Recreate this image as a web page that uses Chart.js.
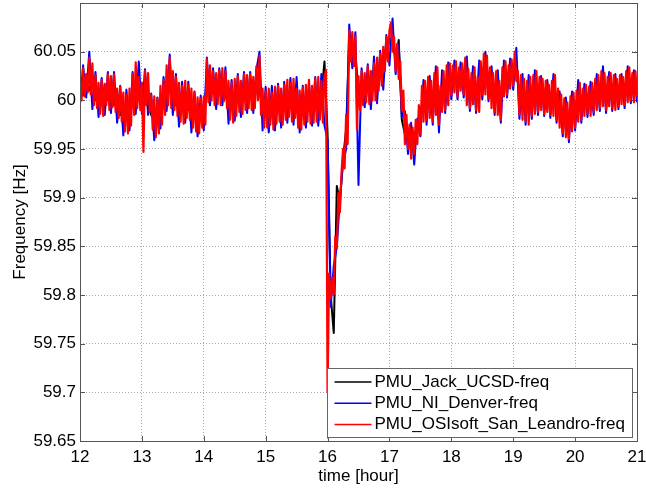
<!DOCTYPE html>
<html>
<head>
<meta charset="utf-8">
<title>PMU frequency</title>
<script src="https://cdn.jsdelivr.net/npm/chart.js@4.4.0/dist/chart.umd.min.js"></script>
<style>
  body { margin: 0; background: #fff; }
  #wrap { width: 646px; height: 491px; }
</style>
</head>
<body>
<div id="wrap"><canvas id="myChart" width="646" height="491"></canvas></div>
<script>
// series names, same order as the legend
var seriesNames = ['PMU_Jack_UCSD-freq', 'PMU_NI_Denver-freq', 'PMU_OSIsoft_San_Leandro-freq'];
var seriesColors = ['#000000', '#0000ff', '#ff0000'];

var hourTicks = [12, 13, 14, 15, 16, 17, 18, 19, 20, 21];
var freqTicks = [59.65, 59.7, 59.75, 59.8, 59.85, 59.9, 59.95, 60, 60.05];

// sampling of the traces (hours)
var startHour = 12;
var fineStep = 0.025;   // OSIsoft trace
var coarseStep = 0.05;  // Jack / Denver traces

// PMU_OSIsoft_San_Leandro-freq [Hz], every 0.025 h from 12:00
var freqOsisoft = [
  60.020, 60.000, 60.033, 60.004, 60.027, 60.008, 60.044, 60.006, 60.038, 59.995,
  60.026, 59.992, 60.018, 59.986, 60.021, 59.984, 60.017, 59.995, 60.027, 59.990,
  60.025, 59.993, 60.027, 59.988, 60.012, 59.982, 60.014, 59.978, 60.008, 59.968,
  60.006, 59.966, 60.012, 59.974, 60.027, 59.985, 60.039, 59.992, 60.024, 59.990,
  60.018, 59.947, 60.030, 59.995, 60.028, 59.988, 60.006, 59.970, 60.004, 59.962,
  60.002, 59.966, 60.015, 59.975, 60.021, 59.985, 60.036, 59.995, 60.044, 59.992,
  60.030, 59.990, 60.024, 59.984, 60.018, 59.978, 60.015, 59.976, 60.020, 59.982,
  60.016, 59.980, 60.012, 59.972, 60.008, 59.968, 60.003, 59.966, 60.002, 59.972,
  60.004, 59.975, 60.042, 59.998, 60.036, 60.000, 60.030, 59.995, 60.028, 59.996,
  60.031, 59.995, 60.033, 59.999, 60.030, 59.992, 60.020, 59.980, 60.018, 59.977,
  60.022, 59.984, 60.025, 59.988, 60.020, 59.986, 60.027, 59.990, 60.026, 59.992,
  60.027, 59.990, 60.024, 59.992, 60.035, 60.000, 60.046, 59.985, 60.012, 59.972,
  60.010, 59.972, 60.012, 59.975, 60.008, 59.970, 60.014, 59.976, 60.015, 59.978,
  60.012, 59.975, 60.016, 59.980, 60.021, 59.983, 60.018, 59.978, 60.022, 59.982,
  60.012, 59.972, 60.010, 59.970, 60.013, 59.975, 60.016, 59.978, 60.021, 59.976,
  60.015, 59.977, 60.022, 59.978, 60.024, 59.980, 60.020, 59.977, 60.025, 60.031,
  59.700, 59.822, 59.796, 59.818, 59.800, 59.860, 59.848, 59.905, 59.885, 59.925,
  59.950, 59.930, 59.985, 59.955, 60.072, 60.040, 60.070, 60.035, 60.066, 59.970,
  60.025, 59.990, 60.030, 59.995, 60.028, 59.998, 60.035, 59.996, 60.030, 60.000,
  60.038, 60.000, 60.044, 60.010, 60.048, 60.015, 60.055, 60.030, 60.065, 60.040,
  60.072, 60.080, 60.050, 60.065, 60.030, 60.058, 60.022, 60.040, 59.990, 60.010,
  59.955, 59.985, 59.950, 59.975, 59.940, 59.972, 59.945, 59.980, 59.955, 59.995,
  59.965, 60.015, 59.978, 60.020, 59.980, 60.024, 59.982, 60.020, 59.978, 60.028,
  59.985, 60.034, 59.975, 60.015, 59.988, 60.030, 59.990, 60.036, 59.995, 60.038,
  60.005, 60.036, 60.008, 60.040, 60.004, 60.034, 60.010, 60.038, 60.006, 60.044,
  59.995, 60.032, 59.992, 60.028, 59.996, 60.034, 59.990, 60.024, 59.988, 60.040,
  60.005, 60.048, 60.006, 60.046, 60.002, 60.034, 59.992, 60.028, 59.988, 60.030,
  59.985, 60.020, 59.980, 60.034, 60.004, 60.040, 60.006, 60.036, 60.012, 60.042,
  60.015, 60.050, 60.020, 60.030, 59.985, 60.026, 59.980, 60.022, 59.978, 60.020,
  59.975, 60.024, 59.984, 60.026, 59.986, 60.030, 59.988, 60.024, 59.990, 60.022,
  59.986, 60.020, 59.988, 60.016, 59.985, 60.020, 59.984, 60.026, 59.980, 60.012,
  59.972, 60.006, 59.966, 60.002, 59.962, 59.998, 59.960, 60.004, 59.968, 60.008,
  59.972, 60.010, 59.978, 60.018, 59.980, 60.012, 59.984, 60.016, 59.986, 60.014,
  59.984, 60.018, 59.988, 60.022, 59.990, 60.026, 59.992, 60.030, 59.994, 60.028,
  59.990, 60.024, 59.994, 60.028, 59.992, 60.026, 59.990, 60.022, 59.994, 60.026,
  59.996, 60.024, 59.995, 60.030, 59.998, 60.034, 60.000, 60.028, 59.998, 60.030,
  60.004
];

// PMU_NI_Denver-freq [Hz], every 0.05 h from 12:00
var freqDenver = [
  59.997, 60.036, 60.003, 60.050, 59.991,
  60.029, 59.983, 60.023, 59.985, 60.029,
  59.987, 60.029, 59.977, 60.015, 59.964,
  60.011, 59.969, 60.029, 59.986, 60.040,
  59.986, 60.032, 59.985, 60.007, 59.959,
  60.003, 59.971, 60.024, 59.989, 60.047,
  59.985, 60.027, 59.973, 60.019, 59.977,
  60.019, 59.967, 60.009, 59.963, 60.005,
  59.969, 60.044, 59.995, 60.033, 59.991,
  60.033, 59.995, 60.034, 59.976, 60.021,
  59.979, 60.027, 59.983, 60.029, 59.987,
  60.029, 59.987, 60.031, 60.050, 59.969,
  60.014, 59.967, 60.015, 59.969, 60.017,
  59.972, 60.019, 59.977, 60.023, 59.975,
  60.024, 59.967, 60.015, 59.972, 60.018,
  59.974, 60.024, 59.974, 60.027, 59.974,
  59.960, 59.788, 59.830, 59.850, 59.900,
  59.935, 59.950, 60.078, 60.033, 60.070,
  59.913, 60.033, 59.993, 60.037, 59.991,
  60.045, 59.997, 60.051, 60.011, 60.067,
  60.036, 60.084, 60.027, 60.057, 59.983,
  59.989, 59.945, 59.977, 59.934, 59.981,
  59.963, 60.021, 59.975, 60.025, 59.975,
  60.035, 59.967, 60.031, 59.987, 60.039,
  60.001, 60.041, 60.001, 60.039, 60.003,
  60.045, 59.989, 60.035, 59.987, 60.041,
  60.001, 60.050, 59.999, 60.035, 59.985,
  60.031, 59.977, 60.041, 60.003, 60.043,
  60.011, 60.054, 59.981, 60.027, 59.975,
  60.026, 59.981, 60.031, 59.985, 60.025,
  59.984, 60.021, 59.982, 60.027, 59.977,
  60.009, 59.963, 60.003, 59.957, 60.009,
  59.969, 60.021, 59.977, 60.017, 59.983,
  60.019, 59.985, 60.027, 59.989, 60.035,
  59.987, 60.029, 59.989, 60.027, 59.991,
  60.027, 59.992, 60.035, 59.997, 60.031,
  59.998
];

// PMU_Jack_UCSD-freq [Hz], every 0.05 h from 12:00
var freqJack = [
  60.015, 60.005, 60.025, 60.010, 60.020,
  60.000, 60.010, 59.995, 60.015, 60.000,
  60.015, 59.995, 60.000, 59.985, 59.990,
  59.980, 59.995, 60.000, 60.020, 60.000,
  60.010, 60.010, 60.000, 59.985, 59.980,
  59.985, 60.000, 60.005, 60.020, 60.010,
  60.005, 59.995, 60.000, 59.990, 60.000,
  59.990, 59.995, 59.985, 59.985, 59.990,
  59.990, 60.020, 60.010, 60.015, 60.010,
  60.015, 60.012, 60.005, 59.995, 60.000,
  60.005, 60.002, 60.008, 60.005, 60.010,
  60.005, 60.010, 60.020, 60.010, 59.990,
  59.992, 59.995, 59.990, 59.995, 59.995,
  59.995, 60.000, 60.002, 59.998, 60.000,
  59.990, 59.992, 59.995, 60.000, 59.998,
  59.995, 60.000, 60.002, 60.005, 60.040,
  59.966, 59.800, 59.761, 59.912, 59.895,
  59.940, 59.970, 60.060, 60.050, 60.050,
  60.005, 60.010, 60.010, 60.015, 60.010,
  60.020, 60.025, 60.035, 60.040, 60.055,
  60.060, 60.065, 60.040, 60.062, 59.980,
  59.965, 59.965, 59.960, 59.962, 59.975,
  59.990, 60.000, 60.000, 60.000, 60.005,
  60.005, 60.000, 60.010, 60.010, 60.015,
  60.020, 60.020, 60.020, 60.025, 60.020,
  60.015, 60.010, 60.012, 60.008, 60.015,
  60.025, 60.025, 60.015, 60.010, 60.010,
  60.005, 60.010, 60.020, 60.020, 60.025,
  60.030, 60.030, 60.005, 60.000, 60.000,
  60.000, 60.005, 60.005, 60.005, 60.005,
  60.002, 60.000, 60.000, 60.005, 59.995,
  59.990, 59.985, 59.980, 59.982, 59.988,
  59.990, 59.995, 59.998, 60.000, 60.000,
  60.000, 60.005, 60.005, 60.010, 60.010,
  60.008, 60.010, 60.010, 60.005, 60.008,
  60.010, 60.010, 60.015, 60.012, 60.015,
  60.015
];

function toPoints(values, step) {
  var pts = [];
  for (var i = 0; i < values.length; i++) {
    pts.push({ x: startHour + i * step, y: values[i] });
  }
  return pts;
}

function tickText(v) {
  return String(Math.round(v * 100) / 100);
}

var FONT = '"Liberation Sans", Arial, Helvetica, sans-serif';
Chart.defaults.font.family = FONT;
Chart.defaults.font.size = 17;
Chart.defaults.color = '#000';

// matlab style box with inward ticks
var axesBox = {
  id: 'axesBox',
  beforeDatasetsDraw: function (chart) {
    var a = chart.chartArea, ctx = chart.ctx;
    var xs = chart.scales.x, ys = chart.scales.y;
    ctx.save();
    ctx.strokeStyle = '#555';
    ctx.lineWidth = 1;
    ctx.beginPath();
    xs.ticks.forEach(function (t) {
      var px = Math.round(xs.getPixelForValue(t.value)) + 0.5;
      ctx.moveTo(px, a.bottom); ctx.lineTo(px, a.bottom - 5);
      ctx.moveTo(px, a.top); ctx.lineTo(px, a.top + 5);
    });
    ys.ticks.forEach(function (t) {
      var py = Math.round(ys.getPixelForValue(t.value)) + 0.5;
      ctx.moveTo(a.left, py); ctx.lineTo(a.left + 5, py);
      ctx.moveTo(a.right, py); ctx.lineTo(a.right - 5, py);
    });
    ctx.stroke();
    ctx.restore();
  },
  afterDatasetsDraw: function (chart) {
    var a = chart.chartArea, ctx = chart.ctx;
    ctx.save();
    ctx.strokeStyle = '#555';
    ctx.lineWidth = 1;
    ctx.strokeRect(Math.round(a.left) + 0.5, Math.round(a.top) + 0.5,
      Math.round(a.right - a.left), Math.round(a.bottom - a.top));
    ctx.restore();
  }
};

// legend box in the lower right corner of the axes
var legendBox = {
  id: 'legendBox',
  afterDraw: function (chart) {
    var a = chart.chartArea, ctx = chart.ctx;
    ctx.save();
    ctx.font = '17px ' + FONT;
    var maxW = 0;
    seriesNames.forEach(function (n) { maxW = Math.max(maxW, ctx.measureText(n).width); });
    var rowH = 21.3;
    var w = Math.round(47 + maxW + 8);
    var h = 69;
    var x0 = Math.round(a.right - 5 - w) + 0.5;
    var y0 = Math.round(a.bottom - 4 - h) + 0.5;
    ctx.fillStyle = '#fff';
    ctx.fillRect(x0, y0, w, h);
    ctx.strokeStyle = '#666';
    ctx.lineWidth = 1;
    ctx.strokeRect(x0, y0, w, h);
    ctx.textBaseline = 'middle';
    ctx.textAlign = 'left';
    seriesNames.forEach(function (n, i) {
      var cy = y0 + 13.5 + i * rowH;
      ctx.strokeStyle = seriesColors[i];
      ctx.lineWidth = 1.5;
      ctx.beginPath();
      ctx.moveTo(x0 + 7, cy);
      ctx.lineTo(x0 + 44, cy);
      ctx.stroke();
      ctx.fillStyle = '#000';
      ctx.fillText(n, x0 + 47, cy);
    });
    ctx.restore();
  }
};

var ctx = document.getElementById('myChart');
var myChart = new Chart(ctx, {
  type: 'line',
  data: {
    datasets: [{
      label: seriesNames[0],
      data: toPoints(freqJack, coarseStep),
      borderColor: seriesColors[0],
      order: 3
    }, {
      label: seriesNames[1],
      data: toPoints(freqDenver, coarseStep),
      borderColor: seriesColors[1],
      order: 2
    }, {
      label: seriesNames[2],
      data: toPoints(freqOsisoft, fineStep),
      borderColor: seriesColors[2],
      borderWidth: 2.2,
      order: 1
    }]
  },
  options: {
    responsive: false,
    animation: false,
    events: [],
    layout: { padding: { left: 0, right: 9, top: 3, bottom: 0 } },
    elements: {
      line: { borderWidth: 2, tension: 0, fill: false, borderJoinStyle: 'round' },
      point: { radius: 0 }
    },
    plugins: {
      legend: { display: false },
      tooltip: { enabled: false }
    },
    scales: {
      x: {
        type: 'linear',
        min: 12,
        max: 21,
        afterBuildTicks: function (scale) {
          scale.ticks = hourTicks.map(function (v) { return { value: v }; });
        },
        afterFit: function (scale) {
          scale.height = 50;
          scale.paddingLeft = 0;
          scale.paddingRight = 0;
        },
        ticks: { padding: 6, maxRotation: 0, autoSkip: false, callback: tickText },
        grid: { color: '#a8a8a8', lineWidth: 1, drawTicks: false },
        border: { display: false, dash: [1, 2] },
        title: { display: true, text: 'time [hour]', padding: { top: 0, bottom: 4 } }
      },
      y: {
        min: 59.65,
        max: 60.1,
        afterBuildTicks: function (scale) {
          scale.ticks = freqTicks.map(function (v) { return { value: v }; });
        },
        afterFit: function (scale) {
          scale.width = 80;
          scale.paddingTop = 0;
          scale.paddingBottom = 0;
        },
        ticks: { padding: 4, autoSkip: false, callback: tickText },
        grid: { color: '#a8a8a8', lineWidth: 1, drawTicks: false },
        border: { display: false, dash: [1, 2] },
        title: { display: true, text: 'Frequency [Hz]', padding: { top: 10, bottom: 0 } }
      }
    }
  },
  plugins: [axesBox, legendBox]
});
</script>
</body>
</html>
